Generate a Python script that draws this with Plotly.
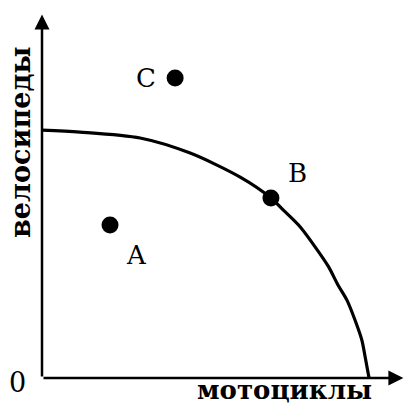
import plotly.graph_objects as go

# Production possibilities frontier
curve_x = [0.0, 1.16, 3.00, 4.53, 6.06, 7.00, 7.38, 7.89, 8.35, 8.76, 9.05, 9.32, 9.57, 9.78, 9.88, 10.0]
curve_y = [10.0, 9.92, 9.68, 9.07, 8.10, 7.26, 6.77, 6.10, 5.29, 4.49, 3.75, 3.15, 2.34, 1.53, 0.86, 0.0]

# Labelled points
point_names = ["A", "B", "C"]
point_x = [2.08, 7.00, 4.07]
point_y = [6.17, 7.26, 12.10]

x_title = "мотоциклы"
y_title = "велосипеды"
origin_label = "0"

X_MAX = 11.13
Y_MAX = 14.68
FONT = "DejaVu Serif"
W, H = 406, 403

fig = go.Figure()

fig.add_trace(go.Scatter(
    x=curve_x, y=curve_y, mode="lines",
    line=dict(color="black", width=3.2, shape="spline", smoothing=0.8),
    hoverinfo="skip", showlegend=False, cliponaxis=False,
))

fig.add_trace(go.Scatter(
    x=point_x, y=point_y, mode="markers",
    marker=dict(color="black", size=17),
    hoverinfo="skip", showlegend=False, cliponaxis=False,
))

# axes with arrows
fig.add_annotation(x=X_MAX - 0.08, y=0, ax=0, ay=0, xref="x", yref="y",
                   axref="x", ayref="y", showarrow=True, arrowhead=2,
                   arrowsize=1.2, arrowwidth=2.5, arrowcolor="black", text="")
fig.add_annotation(x=0, y=Y_MAX - 0.02, ax=0, ay=0, xref="x", yref="y",
                   axref="x", ayref="y", showarrow=True, arrowhead=2,
                   arrowsize=1.2, arrowwidth=2.5, arrowcolor="black", text="")

shifts = {"A": (26, -30), "B": (27, 25), "C": (-29, 0)}
for name, px_, py_ in zip(point_names, point_x, point_y):
    dx, dy = shifts[name]
    fig.add_annotation(x=px_, y=py_, xref="x", yref="y", text=name,
                       showarrow=False, xshift=dx, yshift=dy,
                       font=dict(family=FONT, size=26, color="black"))

fig.add_annotation(x=17.5 / W, y=1 - 382 / H, xref="paper", yref="paper",
                   text=origin_label, showarrow=False, xanchor="center",
                   yanchor="middle",
                   font=dict(family=FONT, size=27, color="black"))

fig.add_annotation(x=284 / W, y=1 - 390 / H, xref="paper", yref="paper",
                   text=x_title, showarrow=False, xanchor="center", yanchor="middle",
                   font=dict(family=FONT, size=26, color="black", weight="bold"))
fig.add_annotation(x=20 / W, y=1 - 143 / H, xref="paper", yref="paper",
                   text=y_title, showarrow=False, textangle=-90,
                   xanchor="center", yanchor="middle",
                   font=dict(family=FONT, size=27, color="black", weight="bold"))

axis_common = dict(showgrid=False, zeroline=False, showline=False,
                   showticklabels=False, ticks="", fixedrange=True)

fig.update_layout(
    width=W, height=H,
    margin=dict(l=0, r=0, t=0, b=0),
    paper_bgcolor="white", plot_bgcolor="white",
    xaxis=dict(range=[0, X_MAX], domain=[42 / W, 1], **axis_common),
    yaxis=dict(range=[0, Y_MAX], domain=[25 / H, 1 - 14 / H], **axis_common),
    showlegend=False,
)

fig.write_html("out.html", config={"displayModeBar": False})

# remove default page margin so the figure sits at the window's top-left
with open("out.html", encoding="utf-8") as f:
    html = f.read()
html = html.replace("<head>", "<head><style>html,body{margin:0;padding:0;overflow:hidden;}</style>", 1)
with open("out.html", "w", encoding="utf-8") as f:
    f.write(html)
